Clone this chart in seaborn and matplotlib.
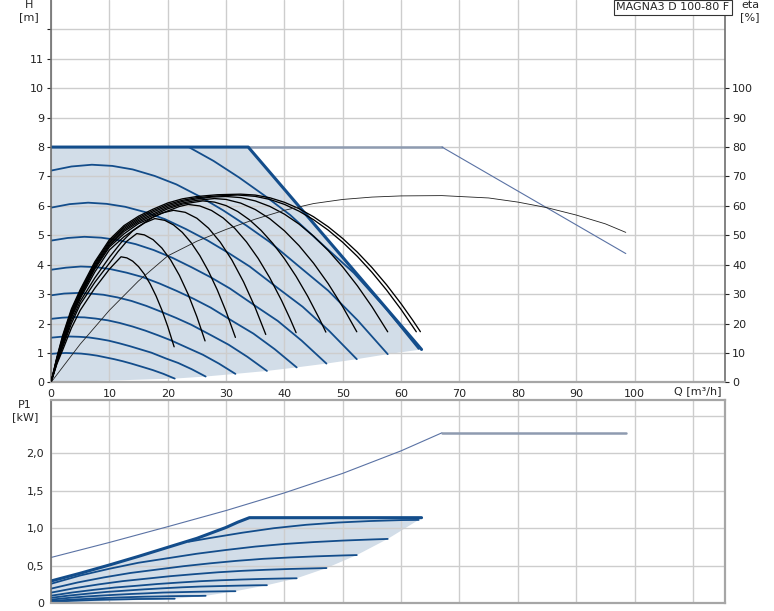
import numpy as np
import pandas as pd
import seaborn as sns
from matplotlib import pyplot as plt

# ---------------- data ----------------
# H curves (Q [m3/h], H [m]) for the speed settings, top = highest speed
H_CURVES_Q = [
    [23.6, 27.85, 32.2, 36.6, 41.0, 47.0, 51.9, 57.3, 63.0],
    [0, 3.5, 7, 10.5, 14, 17.75, 21.5, 25.5, 29.5, 33.5, 37.5, 43, 47.5, 52.5, 57.7],
    [0, 3.18, 6.36, 9.53, 12.71, 16.12, 19.52, 23.15, 26.79, 30.42, 34.05, 39.04, 43.13,
     47.67, 52.4],
    [0, 2.86, 5.73, 8.59, 11.45, 14.52, 17.59, 20.86, 24.13, 27.4, 30.68, 35.17, 38.86,
     42.95, 47.2],
    [0, 2.56, 5.11, 7.67, 10.22, 12.96, 15.7, 18.62, 21.54, 24.46, 27.38, 31.39, 34.68,
     38.33, 42.1],
    [0, 2.24, 4.49, 6.73, 8.97, 11.38, 13.78, 16.35, 18.91, 21.47, 24.04, 27.56, 30.45,
     33.65, 37.0],
    [0, 1.92, 3.84, 5.75, 7.67, 9.73, 11.78, 13.97, 16.17, 18.36, 20.55, 23.56, 26.03,
     28.77, 31.6],
    [0, 1.61, 3.21, 4.82, 6.43, 8.15, 9.87, 11.7, 13.54, 15.38, 17.21, 19.74, 21.80,
     24.10, 26.5],
    [0, 1.28, 2.57, 3.85, 5.14, 6.51, 7.89, 9.36, 10.83, 12.29, 13.76, 15.78, 17.43,
     19.27, 21.2],
]
H_CURVES_H = [
    [8.0, 7.53, 6.97, 6.35, 5.69, 4.60, 3.72, 2.53, 1.14],
    [7.2, 7.34, 7.4, 7.36, 7.24, 7.02, 6.73, 6.32, 5.85, 5.33, 4.77, 3.86, 3.12, 2.12, 0.96],
    [5.94, 6.06, 6.11, 6.07, 5.97, 5.79, 5.55, 5.21, 4.83, 4.40, 3.94, 3.18, 2.57, 1.75, 0.79],
    [4.82, 4.91, 4.95, 4.92, 4.84, 4.70, 4.50, 4.23, 3.91, 3.57, 3.19, 2.58, 2.09, 1.42, 0.64],
    [3.83, 3.90, 3.94, 3.92, 3.85, 3.73, 3.58, 3.36, 3.11, 2.84, 2.54, 2.05, 1.66, 1.13, 0.51],
    [2.96, 3.02, 3.04, 3.02, 2.98, 2.89, 2.77, 2.60, 2.40, 2.19, 1.96, 1.59, 1.28, 0.87, 0.39],
    [2.16, 2.20, 2.22, 2.21, 2.17, 2.11, 2.02, 1.90, 1.76, 1.60, 1.43, 1.16, 0.94, 0.64, 0.29],
    [1.52, 1.55, 1.56, 1.55, 1.53, 1.48, 1.42, 1.33, 1.23, 1.12, 1.01, 0.81, 0.66, 0.45, 0.20],
    [0.97, 0.99, 1.0, 0.99, 0.98, 0.95, 0.91, 0.85, 0.79, 0.72, 0.64, 0.52, 0.42, 0.29, 0.13],
]
# max curve (single pump) and its operating area
H_MAX_Q = [0, 33.8, 63.5]
H_MAX_H = [8.0, 8.0, 1.12]
H_LOW_Q = [63.5, 57.7, 52.4, 47.2, 42.1, 37.0, 31.6, 26.5, 21.2, 0]
H_LOW_H = [1.12, 0.96, 0.79, 0.64, 0.51, 0.39, 0.29, 0.20, 0.13, 0]
# twin pump max curve
H_TWIN_Q = [33.8, 67.0, 98.5]
H_TWIN_H = [8.0, 8.0, 4.38]

# efficiency curves [%]
ETA_Q = [
    [0, 1, 2, 3.5, 5, 7.5, 10, 12, 13, 14, 15, 16, 17, 18, 19, 20, 21.1],
    [0, 1, 2, 3.5, 5, 7.5, 10, 11.5, 13, 14.7, 16, 17.5, 19, 20.5, 22, 23.5, 25, 26.4],
    [0, 1, 2, 3.5, 5, 7.5, 10, 12, 14, 16, 17.8, 19.5, 21, 22.5, 24, 25.5, 27, 28.5,
     30, 31.6],
    [0, 1, 2, 3.5, 5, 7.5, 10, 12.5, 15, 17.5, 19, 21, 23, 25, 27, 29, 31, 33, 35, 36.8],
    [0, 1, 2, 3.5, 5, 7.5, 10, 12.5, 15, 17.5, 20, 22, 23.5, 25.5, 27.5, 29.5, 31.5,
     33.5, 35.5, 37.5, 39.5, 41, 42],
    [0, 1, 2, 3.5, 5, 7.5, 10, 12.5, 15, 17.5, 20, 22.5, 26, 28, 30, 32, 34, 36, 38,
     40, 42, 44, 46, 47.1],
    [0, 1, 2, 3.5, 5, 7.5, 10, 12.5, 15, 17.5, 20, 22.5, 25, 28, 30, 32.5, 35, 37.5,
     40, 42.5, 45, 47.5, 50, 52.4],
    [0, 1, 2, 3.5, 5, 7.5, 10, 12.5, 15, 17.5, 20, 22.5, 25, 27.5, 30, 32.5, 35, 37.5,
     40, 42.5, 45, 47.5, 50, 52.5, 55, 57.7],
    [0, 1, 2, 3.5, 5, 7.5, 10, 12.5, 15, 17.5, 20, 22.5, 25, 28.5, 32, 35, 37.5, 40,
     42.5, 45, 47.5, 50, 52.5, 55, 57.5, 60, 62.6],
    [0, 1, 2, 3.5, 5, 7.5, 10, 12.5, 15, 17.5, 20, 22.5, 25, 28.5, 32.5, 35, 37.5, 40,
     42.5, 45, 47.5, 50, 52.5, 55, 57.5, 60, 62, 63.3],
]
ETA_V = [
    [0, 6.2, 11, 18.5, 24.5, 32, 38.5, 42.7, 42.33, 41.22, 39.37, 36.79, 33.46, 29.4,
     24.6, 19.05, 12.1],
    [0, 6.5, 12, 20, 26.5, 34, 40.5, 44.5, 48, 50.6, 50.15, 48.51, 45.67, 41.63, 36.39,
     29.96, 22.32, 14.1],
    [0, 6.8, 12.5, 21, 27.5, 35.5, 42.5, 47.5, 51.5, 54.2, 55.7, 55.09, 53.53, 51.01,
     47.54, 43.12, 37.74, 31.41, 24.12, 15.3],
    [0, 7, 13, 22, 28.5, 37.5, 45, 49.5, 53, 56.2, 57.6, 58.5, 57.82, 55.8, 52.42,
     47.68, 41.6, 34.16, 25.38, 16.3],
    [0, 7.3, 13.5, 22.5, 29, 38.5, 46, 50.5, 54, 56.2, 58.3, 59.8, 60.5, 59.99, 58.46,
     55.91, 52.35, 47.76, 42.15, 35.53, 27.89, 21.5, 16.9],
    [0, 7.5, 14, 23, 29.5, 39, 46.5, 51.3, 54.5, 56.8, 59, 60.6, 61.7, 61.3, 60.1,
     58.09, 55.29, 51.68, 47.27, 42.06, 36.05, 29.24, 21.62, 17.1],
    [0, 7.8, 14.5, 23.5, 30, 39.5, 47, 51.8, 55, 57.3, 59.5, 61, 61.9, 62.5, 62.2,
     60.96, 58.77, 55.63, 51.54, 46.5, 40.51, 33.57, 25.68, 17.21],
    [0, 8, 15, 24, 30.5, 40, 47.5, 52.3, 55.5, 57.9, 60, 61.5, 62.4, 63, 63.2, 62.83,
     61.7, 59.83, 57.2, 53.83, 49.71, 44.84, 39.22, 32.85, 25.73, 17.2],
    [0, 8.3, 15.5, 24.5, 31, 40.5, 48, 52.8, 56, 58.4, 60.5, 61.9, 62.8, 63.4, 63.7,
     63.25, 62.2, 60.52, 58.22, 55.31, 51.77, 47.61, 42.83, 37.43, 31.41, 24.77, 17.21],
    [0, 8.5, 16, 25, 31.5, 41, 48.5, 53.3, 56.5, 58.9, 61, 62.4, 63.2, 63.8, 64,
     63.69, 62.77, 61.23, 59.07, 56.3, 52.91, 48.9, 44.28, 39.04, 33.19, 26.72, 21.1,
     17.24],
]
ETA_TWIN_Q = [0, 5, 10, 15, 20, 25, 30, 35, 40, 45, 50, 55, 60, 67, 75, 80, 85, 90, 95, 98.5]
ETA_TWIN_V = [0, 13, 24.5, 34.5, 43, 48, 52, 55.5, 58.5, 60.8, 62.2, 63, 63.4, 63.5,
              62.7, 61.3, 59.4, 56.9, 53.9, 51]

# power curves P1 [kW]
P_CURVES_Q = [
    [23.6, 27.3, 32.8, 38.2, 43.7, 49.1, 54.6, 60.1, 63.0],
    [0, 5, 10, 15, 20, 25, 30, 35, 40, 45, 50, 55, 57.7],
    [0, 4.54, 9.08, 13.62, 18.16, 22.7, 27.24, 31.78, 36.32, 40.86, 45.4, 49.94, 52.4],
    [0, 4.09, 8.18, 12.27, 16.36, 20.45, 24.54, 28.63, 32.72, 36.81, 40.9, 44.99, 47.2],
    [0, 3.65, 7.3, 10.95, 14.6, 18.25, 21.9, 25.55, 29.2, 32.85, 36.5, 40.15, 42.1],
    [0, 3.2, 6.41, 9.62, 12.82, 16.02, 19.23, 22.44, 25.64, 28.84, 32.05, 35.26, 37.0],
    [0, 2.74, 5.48, 8.22, 10.96, 13.7, 16.44, 19.18, 21.92, 24.66, 27.4, 30.14, 31.6],
    [0, 2.3, 4.59, 6.89, 9.18, 11.48, 13.77, 16.07, 18.36, 20.66, 22.95, 25.25, 26.5],
    [0, 1.84, 3.67, 5.51, 7.34, 9.18, 11.01, 12.85, 14.68, 16.52, 18.35, 20.19, 21.2],
]
P_CURVES_P = [
    [0.82, 0.87, 0.94, 1.0, 1.045, 1.075, 1.095, 1.108, 1.11],
    [0.26, 0.37, 0.46, 0.54, 0.60, 0.66, 0.71, 0.755, 0.79, 0.815, 0.835, 0.85, 0.857],
    [0.195, 0.277, 0.345, 0.404, 0.449, 0.494, 0.532, 0.565, 0.592, 0.610, 0.625, 0.637, 0.642],
    [0.142, 0.202, 0.252, 0.295, 0.328, 0.361, 0.388, 0.413, 0.432, 0.446, 0.457, 0.465, 0.469],
    [0.101, 0.144, 0.179, 0.210, 0.233, 0.257, 0.276, 0.294, 0.307, 0.317, 0.325, 0.331, 0.333],
    [0.073, 0.104, 0.129, 0.152, 0.169, 0.186, 0.200, 0.213, 0.223, 0.229, 0.235, 0.240, 0.241],
    [0.049, 0.070, 0.087, 0.101, 0.113, 0.124, 0.133, 0.143, 0.148, 0.153, 0.157, 0.160, 0.161],
    [0.03, 0.043, 0.053, 0.062, 0.070, 0.077, 0.083, 0.088, 0.091, 0.095, 0.097, 0.098, 0.10],
    [0.019, 0.026, 0.033, 0.039, 0.044, 0.048, 0.051, 0.054, 0.057, 0.058, 0.059, 0.061, 0.061],
]
P_MAX_Q = [0, 5, 10, 15, 20, 25, 30, 32, 34, 63.5]
P_MAX_P = [0.297, 0.40, 0.51, 0.625, 0.745, 0.865, 1.01, 1.08, 1.14, 1.14]
P_LOW_Q = [63.5, 63.0, 57.7, 52.4, 47.2, 42.1, 37.0, 31.6, 26.5, 21.2, 0]
P_LOW_P = [1.14, 1.11, 0.857, 0.642, 0.469, 0.333, 0.241, 0.161, 0.10, 0.061, 0]
P_TWIN_Q = [0, 10, 20, 30, 40, 50, 60, 67]
P_TWIN_P = [0.61, 0.81, 1.02, 1.235, 1.47, 1.73, 2.03, 2.27]
P_TWIN_FLAT_Q = [67, 98.5]
P_TWIN_FLAT_P = [2.27, 2.27]

H_TICKS = list(range(0, 13))
H_LABELS = [str(t) for t in range(0, 12)] + [""]
ETA_TICKS = list(range(0, 101, 10))
P_TICKS = [0, 0.5, 1.0, 1.5, 2.0, 2.5]
P_LABELS = ["0", "0,5", "1,0", "1,5", "2,0", ""]
Q_TICKS = list(range(0, 111, 10))
Q_LABELS = [str(t) for t in range(0, 101, 10)] + [""]

# ---------------- styling ----------------
DARK = "#134d8b"
THIN = "#5a72a4"
GREYBLUE = "#8e9bb0"
FILL = "#d2dde8"
GRID = "#cdcdcd"

sns.set_style("white")
plt.rcParams['font.family'] = ['DejaVu Sans']
plt.rcParams['font.size'] = 8

W, Hpx = 774, 611
fig = plt.figure(figsize=(W / 100, Hpx / 100), dpi=100)
ax_h = fig.add_axes([51 / W, 1 - 382.4 / Hpx, 674 / W, 382.4 / Hpx])
ax_p = fig.add_axes([51 / W, 1 - 603.3 / Hpx, 674 / W, 202.8 / Hpx])
ax_eta = ax_h.twinx()


def style_axes(ax):
    ax.set_xlim(0, 115.5)
    ax.set_xticks(Q_TICKS)
    ax.set_axisbelow(True)
    ax.grid(True, color=GRID, lw=1.0)
    ax.tick_params(colors="#222222", length=3, width=0.8, labelsize=8, pad=2)
    for s in ax.spines.values():
        s.set_color("#a6a6a6")
        s.set_linewidth(1.6)
    ax.spines["left"].set_color("#6e6e6e")
    ax.spines["left"].set_linewidth(1.2)
    ax.set_xlabel("")
    ax.set_ylabel("")


# ---------------- H / eta panel ----------------
style_axes(ax_h)
ax_h.set_ylim(0, 13)
ax_h.set_yticks(H_TICKS)
ax_h.set_yticklabels(H_LABELS)
ax_h.set_xticklabels(Q_LABELS)
ax_h.spines["top"].set_visible(False)
ax_h.spines["right"].set_color("#6e6e6e")
ax_h.spines["right"].set_linewidth(1.2)

ax_h.fill(H_MAX_Q + H_LOW_Q, H_MAX_H + H_LOW_H, color=FILL, lw=0, zorder=0.3)

sns.lineplot(x=H_TWIN_Q[:2], y=H_TWIN_H[:2], ax=ax_h, color=GREYBLUE, lw=1.8)
sns.lineplot(x=H_TWIN_Q[1:], y=H_TWIN_H[1:], ax=ax_h, color=THIN, lw=0.8)
for q, h in zip(H_CURVES_Q, H_CURVES_H):
    sns.lineplot(x=q, y=h, ax=ax_h, color=DARK, lw=1.3, sort=False)
sns.lineplot(x=H_MAX_Q, y=H_MAX_H, ax=ax_h, color=DARK, lw=2.2, sort=False)
ax_h.set_xlabel("")
ax_h.set_ylabel("")

ax_eta.set_ylim(0, 130)
ax_eta.set_yticks(ETA_TICKS)
ax_eta.tick_params(colors="#222222", length=3, width=0.8, labelsize=8, pad=2)
for s in ax_eta.spines.values():
    s.set_visible(False)
for q, e in zip(ETA_Q, ETA_V):
    sns.lineplot(x=q, y=e, ax=ax_eta, color="#000000", lw=0.95, sort=False)
sns.lineplot(x=ETA_TWIN_Q, y=ETA_TWIN_V, ax=ax_eta, color="#222222", lw=0.6, sort=False)
ax_eta.set_xlabel("")
ax_eta.set_ylabel("")
ax_eta.set_xlim(0, 115.5)

# ---------------- P1 panel ----------------
style_axes(ax_p)
ax_p.set_ylim(0, 2.7)
ax_p.set_yticks(P_TICKS)
ax_p.set_yticklabels(P_LABELS)
ax_p.tick_params(axis="x", length=0, labelbottom=False)

ax_p.fill(P_MAX_Q + P_LOW_Q, P_MAX_P + P_LOW_P, color=FILL, lw=0, zorder=0.3)
sns.lineplot(x=P_TWIN_Q, y=P_TWIN_P, ax=ax_p, color=THIN, lw=0.8)
sns.lineplot(x=P_TWIN_FLAT_Q, y=P_TWIN_FLAT_P, ax=ax_p, color=GREYBLUE, lw=1.8)
for q, p in zip(P_CURVES_Q, P_CURVES_P):
    sns.lineplot(x=q, y=p, ax=ax_p, color=DARK, lw=1.3, sort=False)
sns.lineplot(x=P_MAX_Q, y=P_MAX_P, ax=ax_p, color=DARK, lw=2.2, sort=False)
ax_p.set_xlabel("")
ax_p.set_ylabel("")

# ---------------- texts ----------------
fig.text(29 / W, 1 - 11 / Hpx, "H\n[m]", ha="center", va="center", fontsize=8, linespacing=1.15)
fig.text(750 / W, 1 - 11 / Hpx, "eta\n[%]", ha="center", va="center", fontsize=8, linespacing=1.15)
fig.text(25 / W, 1 - 411 / Hpx, "P1\n[kW]", ha="center", va="center", fontsize=8, linespacing=1.15)
fig.text(722 / W, 1 - 391 / Hpx, "Q [m³/h]", ha="right", va="center", fontsize=8)
fig.text(673 / W, 1 - 7.5 / Hpx, "MAGNA3 D 100-80 F", ha="center", va="center", fontsize=8,
         bbox=dict(boxstyle="square,pad=0.25", fc="white", ec="#333333", lw=0.8))

fig.savefig("out.png", dpi=100)
